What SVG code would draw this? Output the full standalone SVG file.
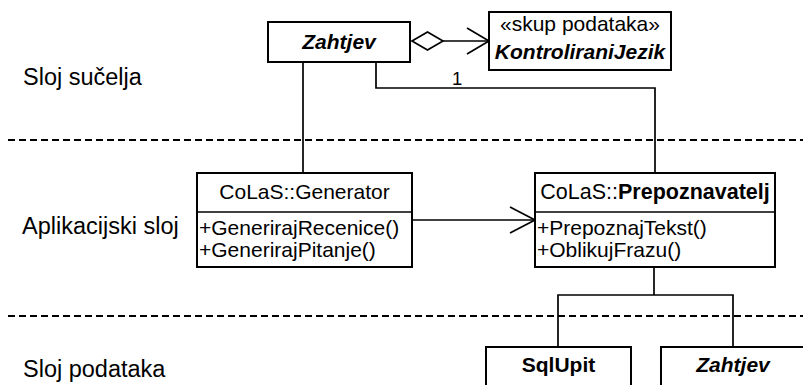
<svg xmlns="http://www.w3.org/2000/svg" width="803" height="385" viewBox="0 0 803 385">
<style>
  .box { fill: #fff; stroke: #000; stroke-width: 2; }
  .ln { fill: none; stroke: #000; stroke-width: 1.7; }
  .dash { fill: none; stroke: #000; stroke-width: 2; stroke-dasharray: 7 4; }
  text { font-family: "Liberation Sans", Arial, sans-serif; fill: #000; }
  .t { font-size: 21px; }
  .lbl { font-size: 23.5px; }
  .c { text-anchor: middle; }
  .bi { font-weight: bold; font-style: italic; }
  .b { font-weight: bold; }
</style>
<rect width="803" height="385" fill="#fff"/>
<g id="layers">
  <line class="dash" x1="8" y1="140" x2="803" y2="140"/>
  <line class="dash" x1="8" y1="316" x2="803" y2="316"/>
  <text class="lbl" x="23" y="85">Sloj sučelja</text>
  <text class="lbl" x="22" y="234">Aplikacijski sloj</text>
  <text class="lbl" x="23" y="377">Sloj podataka</text>
</g>
<g id="connectors">
  <polyline class="ln" points="303,62 303,173"/>
  <polyline class="ln" points="376,62 376,88 655,88 655,173"/>
  <text class="t" x="452" y="85" style="font-size:18.5px">1</text>
  <polygon class="ln" points="412,41 427.5,32 443,41 427.5,50" fill="#fff"/>
  <line class="ln" x1="443" y1="41" x2="489" y2="41"/>
  <polyline class="ln" points="467,28 489,41 467,54"/>
  <line class="ln" x1="412" y1="220" x2="535" y2="220"/>
  <polyline class="ln" points="510,207 535,220 510,233"/>
  <polyline class="ln" points="654,267 654,295"/>
  <polyline class="ln" points="558,347 558,295 733,295 733,347"/>
</g>
<g id="zahtjev-top">
  <rect class="box" x="268" y="22" width="142" height="40"/>
  <text class="t c bi" x="339" y="49">Zahtjev</text>
</g>
<g id="kontroliranijezik">
  <rect class="box" x="489" y="12" width="182" height="58"/>
  <text class="t c" x="580" y="31">«skup podataka»</text>
  <text class="t c bi" x="580" y="59">KontroliraniJezik</text>
</g>
<g id="generator">
  <rect class="box" x="197" y="173" width="215" height="94"/>
  <line class="ln" x1="197" y1="212" x2="412" y2="212"/>
  <text class="t c" x="304.5" y="199">CoLaS::Generator</text>
  <text class="t" x="199" y="235">+GenerirajRecenice()</text>
  <text class="t" x="199" y="257">+GenerirajPitanje()</text>
</g>
<g id="prepoznavatelj">
  <rect class="box" x="535" y="173" width="240" height="94"/>
  <line class="ln" x1="535" y1="212" x2="775" y2="212"/>
  <text class="t c" x="655" y="199" style="font-size:21.5px">CoLaS::<tspan class="b">Prepoznavatelj</tspan></text>
  <text class="t" x="537" y="235">+PrepoznajTekst()</text>
  <text class="t" x="537" y="257">+OblikujFrazu()</text>
</g>
<g id="sqlupit">
  <rect class="box" x="486" y="347" width="145" height="50"/>
  <text class="t c b" x="558.5" y="372">SqlUpit</text>
</g>
<g id="zahtjev-bottom">
  <rect class="box" x="661" y="347" width="145" height="50"/>
  <text class="t c bi" x="733" y="372">Zahtjev</text>
</g>
</svg>
